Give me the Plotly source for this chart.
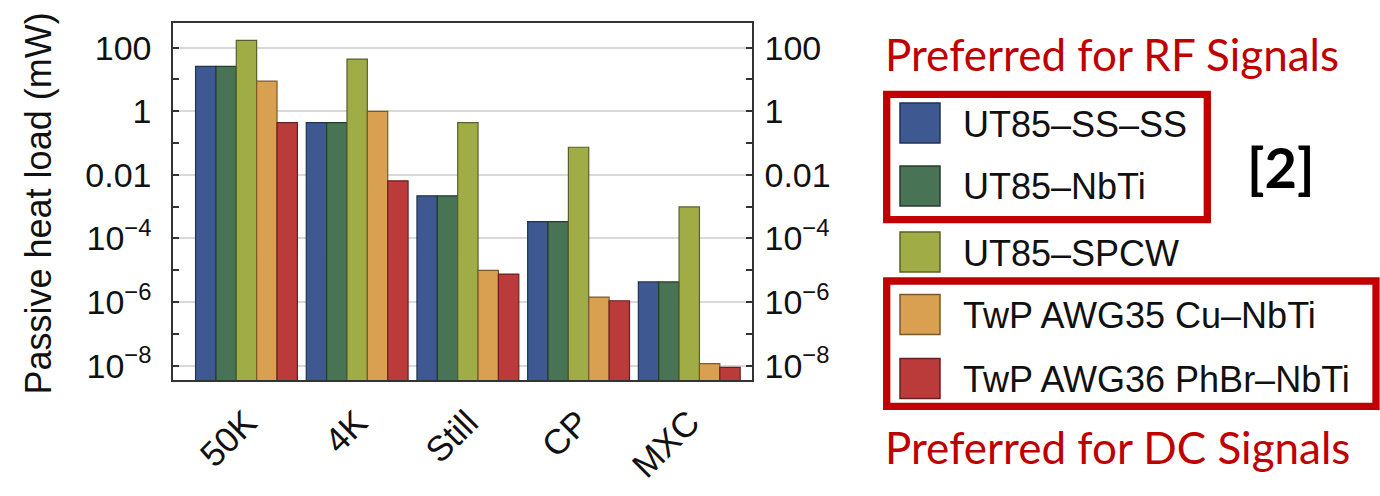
import plotly.graph_objects as go

W, H = 1380, 496

categories = ["50K", "4K", "Still", "CP", "MXC"]
series_names = ["UT85\u2013SS\u2013SS", "UT85\u2013NbTi", "UT85\u2013SPCW",
                "TwP AWG35 Cu\u2013NbTi", "TwP AWG36 PhBr\u2013NbTi"]
ut85_ss_ss = [26, 0.44, 0.0022, 3.4e-4, 4.3e-6]
ut85_nbti = [26, 0.44, 0.0022, 3.4e-4, 4.3e-6]
ut85_spcw = [171, 44, 0.44, 0.074, 9.8e-4]
twp_awg35 = [8.85, 1.0, 9.9e-6, 1.44e-6, 1.16e-8]
twp_awg36 = [0.44, 0.0065, 7.6e-6, 1.1e-6, 8.9e-9]
series_values = [ut85_ss_ss, ut85_nbti, ut85_spcw, twp_awg35, twp_awg36]

colors = ["#3E5992", "#487354", "#A0AC46", "#D8A050", "#BB3B3B"]
edge_colors = ["#22324f", "#263d2c", "#56602a", "#7a5a2a", "#6a2020"]

major_vals = [100, 1, 0.01, 1e-4, 1e-6, 1e-8]
major_text = ["100", "1", "0.01", "10<sup>\u22124</sup>", "10<sup>\u22126</sup>", "10<sup>\u22128</sup>"]
minor_vals = [10, 0.1, 1e-3, 1e-5, 1e-7]

def px(x):
    return x / W

def py(y):
    return 1 - y / H

fig = go.Figure()
for name, vals, c, ec in zip(series_names, series_values, colors, edge_colors):
    fig.add_trace(go.Bar(x=categories, y=vals, name=name,
                         marker=dict(color=c, line=dict(color=ec, width=1.2)),
                         showlegend=False))
# invisible trace for the mirrored right axis
fig.add_trace(go.Scatter(x=categories, y=ut85_spcw, yaxis="y2", mode="markers",
                         marker=dict(opacity=0), showlegend=False, hoverinfo="skip"))

tick_font = dict(family="Liberation Sans, Arial, sans-serif", size=34, color="#111")
xtick_font = dict(family="Liberation Sans, Arial, sans-serif", size=35, color="#111")
yrange = [-8.45, 2.767]

fig.update_layout(
    width=W, height=H,
    margin=dict(l=0, r=0, t=0, b=0, autoexpand=False),
    paper_bgcolor="white", plot_bgcolor="white",
    barmode="group", bargap=0.08, bargroupgap=0,
    xaxis=dict(domain=[px(173.3), px(751.7)], range=[-0.661, 4.564], automargin=False,
               showline=True, linecolor="#333", linewidth=2, mirror=True,
               ticks="", tickangle=-45, tickfont=xtick_font,
               ticklabelstandoff=6, showgrid=False),
    yaxis=dict(domain=[py(380), py(23.3)], type="log", range=yrange, automargin=False,
               tickvals=major_vals, ticktext=major_text, tickfont=tick_font,
               ticks="inside", ticklen=6, tickwidth=2, tickcolor="#333",
               showline=True, linecolor="#333", linewidth=2,
               showgrid=True, gridcolor="#D9D9D9", gridwidth=2, zeroline=False,
               ticklabelstandoff=13,
               minor=dict(tickvals=minor_vals, ticks="inside", ticklen=6,
                          tickwidth=2, tickcolor="#333", showgrid=False)),
    yaxis2=dict(overlaying="y", side="right", type="log", range=yrange, automargin=False,
                tickvals=major_vals, ticktext=major_text, tickfont=tick_font,
                ticks="inside", ticklen=6, tickwidth=2, tickcolor="#333",
                showline=True, linecolor="#333", linewidth=2, showgrid=False, zeroline=False,
                ticklabelstandoff=4,
                minor=dict(tickvals=minor_vals, ticks="inside", ticklen=6,
                           tickwidth=2, tickcolor="#333", showgrid=False)),
)

annotations = []
shapes = []
# y-axis title
annotations.append(dict(x=px(38), y=py(203.5), xref="paper", yref="paper",
                        text="Passive heat load (mW)", textangle=-90, showarrow=False,
                        font=dict(family="Liberation Sans, Arial, sans-serif", size=36, color="#111"),
                        xanchor="center", yanchor="middle"))

# custom legend
row_centers = [123, 186, 252, 314.5, 378.5]
for name, c, ec, yc in zip(series_names, colors, edge_colors, row_centers):
    shapes.append(dict(type="rect", xref="paper", yref="paper",
                       x0=px(900), x1=px(940), y0=py(yc + 20), y1=py(yc - 20),
                       fillcolor=c, line=dict(color=ec, width=1.5)))
    annotations.append(dict(x=px(961), y=py(yc + 1), xref="paper", yref="paper",
                            text=name, showarrow=False, xanchor="left", yanchor="middle",
                            font=dict(family="Liberation Sans, Arial, sans-serif", size=36, color="#111")))

red = "#C00000"
shapes.append(dict(type="rect", xref="paper", yref="paper",
                   x0=px(886.7), x1=px(1207.3), y0=py(219.7), y1=py(94.3),
                   line=dict(color=red, width=7.3)))
shapes.append(dict(type="rect", xref="paper", yref="paper",
                   x0=px(886.7), x1=px(1376), y0=py(406.3), y1=py(281),
                   line=dict(color=red, width=7.3)))

callout_font = dict(family="Lato, Open Sans, sans-serif", size=44, color=red)
annotations.append(dict(x=px(883), y=py(54), xref="paper", yref="paper",
                        text="Preferred for RF Signals", showarrow=False,
                        xanchor="left", yanchor="middle", font=callout_font))
annotations.append(dict(x=px(883), y=py(447), xref="paper", yref="paper",
                        text="Preferred for DC Signals", showarrow=False,
                        xanchor="left", yanchor="middle", font=callout_font))
annotations.append(dict(x=px(1281), y=py(166), xref="paper", yref="paper",
                        text="<b>[2]</b>", showarrow=False,
                        xanchor="center", yanchor="middle",
                        font=dict(family="Lato, Open Sans, sans-serif", size=56, color="#000")))

fig.update_layout(annotations=annotations, shapes=shapes)
fig.write_html("out.html", config={"displayModeBar": False},
               post_script="document.body.style.margin='0';document.body.style.overflow='hidden';")
